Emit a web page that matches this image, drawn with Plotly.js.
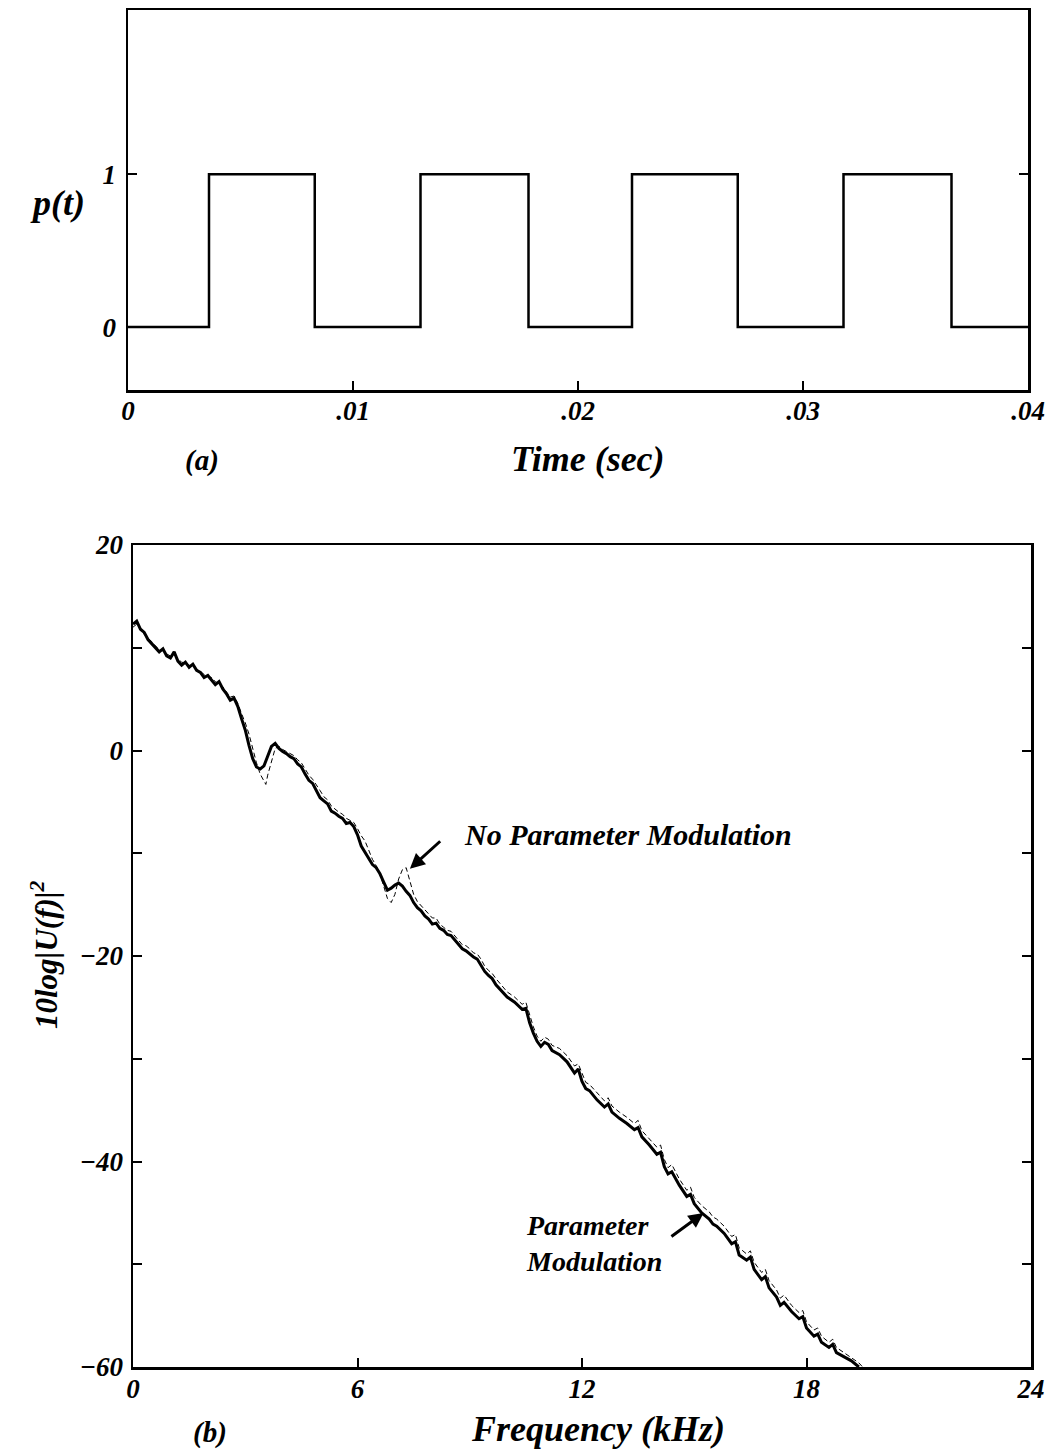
<!DOCTYPE html>
<html>
<head>
<meta charset="utf-8">
<script src="https://cdn.plot.ly/plotly-3.0.1.min.js"></script>
<style>
html,body{margin:0;padding:0;background:#fff;}
#chart{width:1053px;height:1452px;}
</style>
</head>
<body>
<div id="chart"></div>
<script>
// ---- Panel (a): pulse train p(t) ----
const timeEdges = [0, 0.0036, 0.0083, 0.0130, 0.0178, 0.0224, 0.0271, 0.0318, 0.0366, 0.0400];
const pulseVals = [0, 1, 0, 1, 0, 1, 0, 1, 0, 0];
const timeTickVals = [0, 0.01, 0.02, 0.03, 0.04];
const timeTickText = ["0", ".01", ".02", ".03", ".04"];
const pTickVals = [0, 1];
const pTickText = ["0", "1"];

// ---- Panel (b): spectra ----
const freqPM = [0.0,0.1,0.2,0.3,0.4,0.5,0.6,0.7,0.8,0.9,1.0,1.1,1.2,1.3,1.4,1.5,1.6,1.7,1.8,1.9,2.0,2.1,2.2,2.3,2.4,2.5,2.6,2.7,2.8,2.9,3.0,3.1,3.2,3.3,3.4,3.5,3.6,3.7,3.8,3.9,4.0,4.1,4.2,4.3,4.4,4.5,4.6,4.7,4.8,4.9,5.0,5.1,5.2,5.3,5.4,5.5,5.6,5.7,5.8,5.9,6.0,6.1,6.2,6.3,6.4,6.5,6.6,6.7,6.8,6.9,7.0,7.1,7.2,7.3,7.4,7.5,7.6,7.7,7.8,7.9,8.0,8.1,8.2,8.3,8.4,8.5,8.6,8.7,8.8,8.9,9.0,9.1,9.2,9.3,9.4,9.5,9.6,9.7,9.8,9.9,10.0,10.2,10.4,10.5,10.6,10.7,10.8,10.9,11.0,11.1,11.2,11.4,11.6,11.8,11.9,12.0,12.1,12.2,12.4,12.6,12.7,12.8,13.0,13.2,13.4,13.5,13.6,13.8,14.0,14.1,14.2,14.3,14.4,14.6,14.8,14.9,15.0,15.2,15.4,15.5,15.6,15.8,16.0,16.1,16.2,16.4,16.5,16.6,16.8,16.9,17.0,17.2,17.3,17.4,17.6,17.8,17.9,18.0,18.2,18.3,18.4,18.6,18.7,18.8,19.0,19.2,19.4];
const dbPM = [12.3,12.6,11.8,11.5,10.8,10.4,10.0,9.6,9.9,9.2,9.0,9.6,8.7,8.3,8.6,8.1,8.4,7.8,7.6,7.1,7.3,6.9,6.4,6.7,6.0,5.5,4.9,5.1,4.3,3.1,2.0,0.5,-0.8,-1.6,-1.8,-1.5,-0.6,0.4,0.7,0.2,-0.1,-0.3,-0.6,-0.8,-1.3,-1.6,-2.3,-2.9,-3.2,-3.9,-4.6,-4.9,-5.2,-5.9,-6.1,-6.4,-6.6,-7.1,-7.0,-7.4,-8.2,-9.3,-9.9,-10.5,-11.1,-11.4,-12.0,-12.8,-13.6,-13.4,-13.1,-12.9,-13.2,-13.7,-14.1,-14.8,-15.3,-15.6,-16.1,-16.4,-16.9,-16.8,-17.3,-17.5,-17.9,-18.0,-18.4,-18.9,-19.3,-19.5,-19.8,-20.1,-20.3,-20.9,-21.5,-21.9,-22.2,-22.8,-23.2,-23.6,-24.0,-24.5,-25.2,-25.1,-26.5,-27.5,-28.3,-28.8,-28.4,-28.6,-29.2,-29.6,-30.3,-31.4,-31.0,-32.2,-32.9,-33.1,-34.0,-34.7,-34.4,-35.2,-35.8,-36.3,-36.9,-36.7,-37.6,-38.4,-39.3,-39.1,-40.5,-41.2,-41.0,-42.3,-43.4,-43.2,-44.1,-45.0,-45.6,-46.1,-46.3,-47.0,-48.0,-47.8,-49.1,-49.6,-49.3,-50.5,-51.5,-51.2,-52.3,-53.2,-54.0,-53.7,-54.6,-55.3,-55.1,-56.2,-57.0,-56.8,-57.6,-58.1,-57.8,-58.6,-59.0,-59.4,-60.0];

const freqNPM = [0.0,0.1,0.2,0.3,0.4,0.5,0.6,0.7,0.8,0.9,1.0,1.1,1.2,1.3,1.4,1.5,1.6,1.7,1.8,1.9,2.0,2.1,2.2,2.3,2.4,2.5,2.6,2.7,2.8,2.9,3.0,3.1,3.2,3.3,3.4,3.5,3.55,3.6,3.7,3.8,3.9,4.0,4.1,4.2,4.3,4.4,4.5,4.6,4.7,4.8,4.9,5.0,5.1,5.2,5.3,5.4,5.5,5.6,5.7,5.8,5.9,6.0,6.1,6.2,6.3,6.4,6.5,6.6,6.7,6.8,6.9,7.0,7.1,7.2,7.3,7.4,7.5,7.6,7.7,7.8,7.9,8.0,8.1,8.2,8.3,8.4,8.5,8.6,8.7,8.8,8.9,9.0,9.1,9.2,9.3,9.4,9.5,9.6,9.7,9.8,9.9,10.0,10.2,10.4,10.5,10.6,10.7,10.8,10.9,11.0,11.1,11.2,11.4,11.6,11.8,11.9,12.0,12.1,12.2,12.4,12.6,12.7,12.8,13.0,13.2,13.4,13.5,13.6,13.8,14.0,14.1,14.2,14.3,14.4,14.6,14.8,14.9,15.0,15.2,15.4,15.5,15.6,15.8,16.0,16.1,16.2,16.4,16.5,16.6,16.8,16.9,17.0,17.2,17.3,17.4,17.6,17.8,17.9,18.0,18.2,18.3,18.4,18.6,18.7,18.8,19.0,19.2,19.4,19.5];
const dbNPM = [12.0,12.3,11.9,11.3,10.9,10.6,10.2,9.8,9.7,9.4,9.2,9.3,8.9,8.6,8.5,8.3,8.2,7.9,7.7,7.4,7.2,7.1,6.7,6.5,6.2,5.7,5.2,5.3,4.6,3.6,2.7,1.6,0.2,-1.2,-2.3,-3.0,-3.3,-2.4,-1.0,0.2,0.4,0.1,-0.1,-0.3,-0.5,-0.9,-1.2,-1.8,-2.4,-2.8,-3.3,-3.9,-4.5,-4.8,-5.4,-5.7,-6.0,-6.2,-6.6,-6.8,-7.0,-7.6,-8.3,-8.8,-9.7,-10.6,-11.2,-12.0,-13.2,-14.4,-14.8,-14.0,-12.5,-11.6,-11.4,-12.6,-14.0,-14.7,-15.1,-15.6,-16.0,-16.3,-16.3,-16.9,-17.2,-17.5,-17.6,-18.0,-18.4,-18.9,-19.0,-19.3,-19.7,-19.8,-20.3,-21.0,-21.4,-21.7,-22.2,-22.6,-23.0,-23.5,-24.0,-24.7,-24.5,-25.7,-26.9,-27.8,-28.3,-27.9,-28.1,-28.7,-29.0,-29.7,-30.7,-30.5,-31.5,-32.3,-32.5,-33.3,-34.1,-33.8,-34.6,-35.2,-35.7,-36.3,-36.0,-37.0,-37.8,-38.6,-38.4,-39.8,-40.6,-40.3,-41.7,-42.8,-42.5,-43.5,-44.3,-44.9,-45.4,-45.6,-46.3,-47.3,-47.1,-48.4,-49.0,-48.7,-49.8,-50.8,-50.5,-51.6,-52.5,-53.3,-53.0,-54.0,-54.7,-54.5,-55.6,-56.4,-56.2,-57.0,-57.6,-57.3,-58.1,-58.6,-59.1,-59.6,-60.0];

const freqTickVals = [0, 6, 12, 18, 24];
const freqTickText = ["0", "6", "12", "18", "24"];
const freqTopTickVals = [3.7, 7.4, 11.1, 14.8, 18.5, 22.2];
const dbTickVals = [-60, -50, -40, -30, -20, -10, 0, 10, 20];
const dbTickText = ["\u221260", "", "\u221240", "", "\u221220", "", "0", "", "20"];

// ---- layout helpers ----
const W = 1053, H = 1452;
const px = v => v / W;
const py = v => 1 - v / H;
const FONT = "Liberation Serif, Times New Roman, serif";
const tickFont = {family: FONT, size: 27, color: "#000", style: "italic", weight: "bold"};
const txt = (size) => ({family: FONT, size: size, style: "italic", weight: "bold", color: "#000"});

const traces = [
  {x: timeEdges, y: pulseVals, type: "scatter", mode: "lines", line: {shape: "hv", color: "#000", width: 2.5}, xaxis: "x", yaxis: "y", hoverinfo: "skip"},
  {x: freqNPM, y: dbNPM, type: "scatter", mode: "lines", name: "No Parameter Modulation", line: {color: "#000", width: 1, dash: "5px,3px"}, xaxis: "x2", yaxis: "y2"},
  {x: freqPM, y: dbPM, type: "scatter", mode: "lines", name: "Parameter Modulation", line: {color: "#000", width: 3}, xaxis: "x2", yaxis: "y2"}
];

const axisCommon = {showline: true, linecolor: "#000", linewidth: 2.5, showgrid: false, zeroline: false,
  ticks: "inside", ticklen: 9, tickwidth: 2, tickcolor: "#000", tickfont: tickFont, tickmode: "array", fixedrange: true};

const layout = {
  width: W, height: H,
  margin: {l: 0, r: 0, t: 0, b: 0},
  paper_bgcolor: "#fff", plot_bgcolor: "#fff",
  showlegend: false,
  xaxis: Object.assign({}, axisCommon, {domain: [px(128), px(1028)], range: [0, 0.04], anchor: "y",
    tickvals: timeTickVals, ticktext: timeTickText, mirror: true, ticklabelstandoff: -5}),
  yaxis: Object.assign({}, axisCommon, {domain: [py(390), py(10)], range: [-0.412, 2.075], anchor: "x",
    tickvals: pTickVals, ticktext: pTickText, mirror: "ticks", ticklabelstandoff: 4}),
  xaxis2: Object.assign({}, axisCommon, {domain: [px(133), px(1031)], range: [0, 24], anchor: "y2",
    tickvals: freqTickVals, ticktext: freqTickText, mirror: true, ticklabelstandoff: -4}),
  xaxis3: {domain: [px(133), px(1031)], range: [0, 24], anchor: "y2", overlaying: "x2", side: "top",
    showline: false, showgrid: false, zeroline: false, ticks: "inside", ticklen: 8, tickwidth: 2, tickcolor: "#000",
    tickmode: "array", tickvals: freqTopTickVals, showticklabels: false, fixedrange: true},
  yaxis2: Object.assign({}, axisCommon, {domain: [py(1367), py(545)], range: [-60, 20], anchor: "x2",
    tickvals: dbTickVals, ticktext: dbTickText, mirror: "ticks", ticklabelstandoff: 2}),
  annotations: [
    {text: "p(t)", xref: "paper", yref: "paper", x: px(57), y: py(203), xanchor: "center", yanchor: "middle", showarrow: false, font: txt(36)},
    {text: "(a)", xref: "paper", yref: "paper", x: px(202), y: py(460), xanchor: "center", yanchor: "middle", showarrow: false, font: txt(29)},
    {text: "Time (sec)", xref: "paper", yref: "paper", x: px(588), y: py(459), xanchor: "center", yanchor: "middle", showarrow: false, font: txt(36)},
    {text: "(b)", xref: "paper", yref: "paper", x: px(210), y: py(1432), xanchor: "center", yanchor: "middle", showarrow: false, font: txt(29)},
    {text: "Frequency (kHz)", xref: "paper", yref: "paper", x: px(598), y: py(1429), xanchor: "center", yanchor: "middle", showarrow: false, font: txt(36)},
    {text: "10log|U(f)|<sup>2</sup>", xref: "paper", yref: "paper", x: px(44), y: py(955), xanchor: "center", yanchor: "middle", showarrow: false,
      textangle: -90, font: txt(31)},
    {text: "No Parameter Modulation", xref: "paper", yref: "paper", x: px(462), y: py(834), xanchor: "left", yanchor: "middle",
      showarrow: false, font: txt(30)},
    {xref: "x2", yref: "y2", x: 7.4, y: -11.5, ax: 8.25, ay: -8.7, axref: "x2", ayref: "y2", text: "",
      showarrow: true, arrowhead: 2, arrowsize: 1, arrowwidth: 3, arrowcolor: "#000"},
    {text: "Parameter<br>Modulation", xref: "paper", yref: "paper", x: px(524), y: py(1243), xanchor: "left", yanchor: "middle",
      align: "left", showarrow: false, font: txt(28)},
    {xref: "x2", yref: "y2", x: 15.25, y: -45.0, ax: 14.35, ay: -47.4, axref: "x2", ayref: "y2", text: "",
      showarrow: true, arrowhead: 2, arrowsize: 1, arrowwidth: 3, arrowcolor: "#000"}
  ]
};

Plotly.newPlot("chart", traces, layout, {staticPlot: true, displayModeBar: false});
</script>
</body>
</html>
